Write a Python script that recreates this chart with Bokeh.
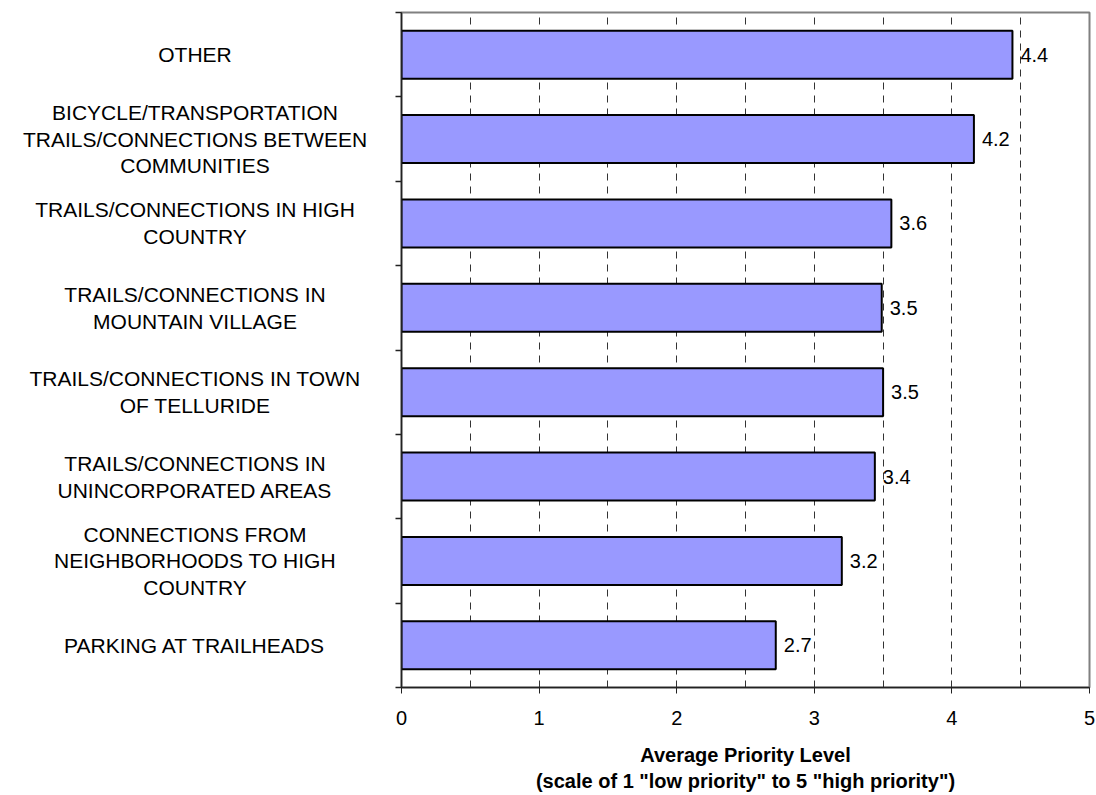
from bokeh.plotting import figure
from bokeh.layouts import row
from bokeh.models import ColumnDataSource, LabelSet, FixedTicker, Range1d
from bokeh.core.properties import value
from bokeh.embed import file_html
from bokeh.resources import INLINE

categories = [
    "OTHER",
    "BICYCLE/TRANSPORTATION\nTRAILS/CONNECTIONS BETWEEN\nCOMMUNITIES",
    "TRAILS/CONNECTIONS IN HIGH\nCOUNTRY",
    "TRAILS/CONNECTIONS IN\nMOUNTAIN VILLAGE",
    "TRAILS/CONNECTIONS IN TOWN\nOF TELLURIDE",
    "TRAILS/CONNECTIONS IN\nUNINCORPORATED AREAS",
    "CONNECTIONS FROM\nNEIGHBORHOODS TO HIGH\nCOUNTRY",
    "PARKING AT TRAILHEADS",
]
values = [4.44, 4.16, 3.56, 3.49, 3.50, 3.44, 3.20, 2.72]
value_labels = ["4.4", "4.2", "3.6", "3.5", "3.5", "3.4", "3.2", "2.7"]
x_ticks = [0, 1, 2, 3, 4, 5]
grid_ticks = [0.5, 1, 1.5, 2, 2.5, 3, 3.5, 4, 4.5]

n = len(categories)
ypos = [n - i - 0.5 for i in range(n)]
boundaries = list(range(n + 1))

FONT = "Liberation Sans"
TOP, BOTTOM = 12, 108

src = ColumnDataSource(dict(y=ypos, v=values, lab=value_labels, cat=categories,
                            cx=[0.5] * n))
yr = Range1d(0, n)

# left panel holding the category labels
lp = figure(width=389, height=795, output_backend="svg", toolbar_location=None,
            x_range=Range1d(0, 1), y_range=yr,
            x_axis_location=None, y_axis_location=None,
            min_border_left=0, min_border_right=0,
            min_border_top=TOP, min_border_bottom=BOTTOM)
lp.outline_line_color = None
lp.xgrid.visible = False
lp.ygrid.visible = False
lp.text(x="cx", y="y", text="cat", source=src,
        text_align="center", text_baseline="middle",
        text_font=value(FONT), text_font_size=value("21px"),
        text_line_height=1.17, text_color="black")

# main chart
p = figure(width=707, height=795, output_backend="svg", toolbar_location=None,
           x_range=Range1d(0, 5), y_range=yr,
           min_border_left=12, min_border_right=7,
           min_border_top=TOP, min_border_bottom=BOTTOM)

p.hbar(y="y", right="v", left=0, height=0.57, source=src,
       fill_color="#9999FF", line_color="black", line_width=2)

p.add_layout(LabelSet(x="v", y="y", text="lab", source=src, x_offset=8,
                      text_baseline="middle", text_align="left",
                      text_font=value(FONT), text_font_size="20px", text_color="black"))

p.outline_line_color = "#808080"
p.outline_line_width = 2

p.xaxis.ticker = FixedTicker(ticks=x_ticks)
p.xaxis.major_tick_out = 6
p.xaxis.major_tick_in = 0
p.xaxis.minor_tick_line_color = None
p.xaxis.major_label_text_font = FONT
p.xaxis.major_label_text_font_size = "20px"
p.xaxis.major_label_text_color = "black"
p.xaxis.major_label_standoff = 17
p.xaxis.axis_line_color = "#222222"
p.xaxis.axis_line_width = 1.5
p.xaxis.major_tick_line_color = "#222222"
p.xaxis.axis_label = "Average Priority Level\n(scale of 1 \"low priority\" to 5 \"high priority\")"
p.xaxis.axis_label_text_font = FONT
p.xaxis.axis_label_text_font_style = "bold"
p.xaxis.axis_label_text_font_size = "20px"
p.xaxis.axis_label_text_color = "black"
p.xaxis.axis_label_standoff = 16

p.yaxis.ticker = FixedTicker(ticks=[], minor_ticks=boundaries)
p.yaxis.major_tick_line_color = None
p.yaxis.minor_tick_out = 6
p.yaxis.minor_tick_in = 0
p.yaxis.minor_tick_line_color = "#222222"
p.yaxis.minor_tick_line_width = 1.5
p.yaxis.axis_line_color = "#222222"
p.yaxis.axis_line_width = 1.5

p.xgrid.ticker = FixedTicker(ticks=grid_ticks)
p.xgrid.grid_line_color = "#333333"
p.xgrid.grid_line_dash = "7 6"
p.xgrid.grid_line_width = 1
p.ygrid.grid_line_color = None

layout = row(lp, p)
open("out.html", "w").write(file_html(layout, INLINE))
